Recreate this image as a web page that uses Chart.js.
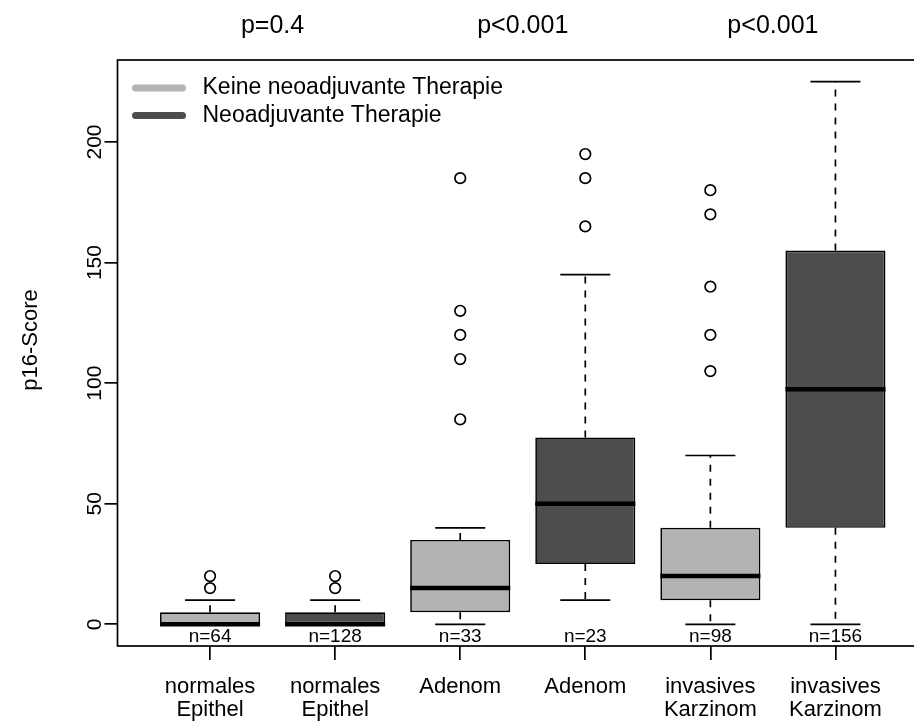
<!DOCTYPE html>
<html lang="de">
<head>
  <meta charset="UTF-8" />
  <title>p16-Score Boxplot</title>
  <script src="https://cdn.jsdelivr.net/npm/chart.js"></script>
  <style>
    html, body { margin: 0; padding: 0; background: #fff; overflow: hidden; }
    canvas { display: block; }
  </style>
</head>
<body>
  <!-- etwas breiter als das Fenster: der rechte Rahmen liegt wie im Original ausserhalb -->
  <canvas id="boxChart" width="935" height="721"></canvas>

  <script>
    // Daten
    const categories = [['normales', 'Epithel'], ['normales', 'Epithel'], ['Adenom'], ['Adenom'], ['invasives', 'Karzinom'], ['invasives', 'Karzinom']];
    const groupPositions = [1, 2, 3, 4, 5, 6];
    const therapyGroup = [0, 1, 0, 1, 0, 1];
    const whiskerLow = [0, 0, 0, 10, 0, 0];
    const q1 = [0, 0, 5, 25, 10, 40];
    const median = [0, 0, 15, 50, 20, 97.5];
    const q3 = [5, 5, 35, 77.5, 40, 155];
    const whiskerHigh = [10, 10, 40, 145, 70, 225];
    const outliers = [[15, 20], [15, 20], [85, 110, 120, 130, 185], [165, 185, 195], [105, 120, 140, 170, 180], []];
    const sampleSizes = [64, 128, 33, 23, 98, 156];
    const pValues = ['p=0.4', 'p<0.001', 'p<0.001'];
    const pPositions = [1.5, 3.5, 5.5];
    const yTicks = [0, 50, 100, 150, 200];
    const legendLabels = ['Keine neoadjuvante Therapie', 'Neoadjuvante Therapie'];
    const groupColors = ['#b3b3b3', '#4d4d4d'];

    const FONT = '"Liberation Sans", Arial, Helvetica, sans-serif';
    const LW = 1.7;

    const boxData = groupPositions.map((pos, i) => ({ x: pos, y: [q1[i], q3[i]] }));
    const outlierData = [];
    groupPositions.forEach((pos, i) => outliers[i].forEach(v => outlierData.push({ x: pos, y: v })));

    const boxParts = {
      id: 'boxParts',
      beforeDatasetsDraw(chart) {
        const { ctx, scales: { x, y } } = chart;
        ctx.save();
        ctx.strokeStyle = '#000';
        ctx.lineWidth = LW;
        groupPositions.forEach((pos, i) => {
          const cx = x.getPixelForValue(pos);
          const half = x.getPixelForValue(pos + 0.2) - cx;
          ctx.setLineDash([7, 7]);
          ctx.beginPath();
          ctx.moveTo(cx, y.getPixelForValue(q3[i]));
          ctx.lineTo(cx, y.getPixelForValue(whiskerHigh[i]));
          ctx.moveTo(cx, y.getPixelForValue(q1[i]));
          ctx.lineTo(cx, y.getPixelForValue(whiskerLow[i]));
          ctx.stroke();
          ctx.setLineDash([]);
          ctx.beginPath();
          [whiskerHigh[i], whiskerLow[i]].forEach(v => {
            const py = y.getPixelForValue(v);
            ctx.moveTo(cx - half, py);
            ctx.lineTo(cx + half, py);
          });
          ctx.stroke();
        });
        ctx.restore();
      },
      afterDatasetsDraw(chart) {
        const { ctx, scales: { y } } = chart;
        const bars = chart.getDatasetMeta(0).data;
        ctx.save();
        ctx.strokeStyle = '#000';
        ctx.lineWidth = 4.5;
        bars.forEach((bar, i) => {
          const py = y.getPixelForValue(median[i]);
          ctx.beginPath();
          ctx.moveTo(bar.x - bar.width / 2, py);
          ctx.lineTo(bar.x + bar.width / 2, py);
          ctx.stroke();
        });
        ctx.restore();
      },
      afterDraw(chart) {
        const { ctx, chartArea: a, scales: { x, y } } = chart;
        ctx.save();
        // Rahmen
        ctx.strokeStyle = '#000';
        ctx.lineWidth = LW;
        ctx.strokeRect(a.left, a.top, a.right - a.left, a.bottom - a.top);

        // y-Achsenbeschriftung (gedreht wie in R)
        ctx.fillStyle = '#000';
        ctx.font = '21px ' + FONT;
        ctx.textAlign = 'center';
        ctx.textBaseline = 'alphabetic';
        yTicks.forEach(v => {
          ctx.save();
          ctx.translate(101, y.getPixelForValue(v));
          ctx.rotate(-Math.PI / 2);
          ctx.fillText(String(v), 0, 0);
          ctx.restore();
        });
        ctx.save();
        ctx.font = '22px ' + FONT;
        ctx.translate(37, 340);
        ctx.rotate(-Math.PI / 2);
        ctx.fillText('p16-Score', 0, 0);
        ctx.restore();

        // n-Werte
        ctx.font = '19px ' + FONT;
        ctx.textBaseline = 'middle';
        groupPositions.forEach((pos, i) => {
          ctx.fillText('n=' + sampleSizes[i], x.getPixelForValue(pos), y.getPixelForValue(-5));
        });

        // p-Werte
        ctx.font = '25px ' + FONT;
        pValues.forEach((p, i) => ctx.fillText(p, x.getPixelForValue(pPositions[i]), 26));

        // Legende
        ctx.textAlign = 'left';
        ctx.font = '23px ' + FONT;
        legendLabels.forEach((label, i) => {
          const ly = a.top + 28 + i * 27.5;
          ctx.strokeStyle = groupColors[i];
          ctx.lineWidth = 7;
          ctx.lineCap = 'round';
          ctx.beginPath();
          ctx.moveTo(a.left + 18, ly);
          ctx.lineTo(a.left + 65, ly);
          ctx.stroke();
          ctx.fillText(label, a.left + 85, ly);
        });
        ctx.restore();
      }
    };

    new Chart(document.getElementById('boxChart'), {
      type: 'bar',
      data: {
        datasets: [
          {
            label: 'Box',
            data: boxData,
            backgroundColor: therapyGroup.map(g => groupColors[g]),
            borderColor: '#000',
            borderWidth: LW,
            borderSkipped: false,
            barPercentage: 0.8,
            categoryPercentage: 1.0
          },
          {
            type: 'scatter',
            label: 'Ausreisser',
            data: outlierData,
            pointStyle: 'circle',
            pointRadius: 5.3,
            pointBorderWidth: LW,
            pointBorderColor: '#000',
            pointBackgroundColor: 'rgba(0,0,0,0)'
          }
        ]
      },
      options: {
        responsive: false,
        animation: false,
        devicePixelRatio: 1,
        events: [],
        layout: { padding: { top: 60, left: 0, right: 0, bottom: 0 } },
        plugins: { legend: { display: false }, tooltip: { enabled: false } },
        scales: {
          x: {
            type: 'linear',
            offset: false,
            min: 0.26,
            max: 6.74,
            afterBuildTicks: s => { s.ticks = groupPositions.map(v => ({ value: v })); },
            afterFit: s => { s.height = 75; },
            grid: { offset: false, drawOnChartArea: false, drawTicks: true, tickLength: 14, color: '#000', lineWidth: LW },
            border: { display: false },
            ticks: {
              autoSkip: false,
              maxRotation: 0,
              padding: 15,
              color: '#000',
              font: { family: FONT, size: 22, lineHeight: 1.05 },
              callback: (v) => categories[groupPositions.indexOf(v)]
            }
          },
          y: {
            type: 'linear',
            min: -9,
            max: 234,
            afterBuildTicks: s => { s.ticks = yTicks.map(v => ({ value: v })); },
            afterFit: s => { s.width = 117.5; },
            grid: { drawOnChartArea: false, drawTicks: true, tickLength: 13, color: '#000', lineWidth: LW },
            border: { display: false },
            ticks: { display: false }
          }
        }
      },
      plugins: [boxParts]
    });
  </script>
</body>
</html>
